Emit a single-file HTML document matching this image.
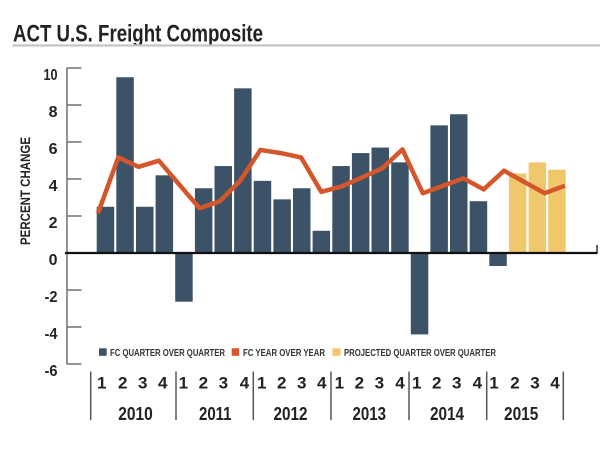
<!DOCTYPE html>
<html>
<head>
<meta charset="utf-8">
<style>
html,body{margin:0;padding:0;background:#fff;}
svg{display:block;}
text{font-family:"Liberation Sans Narrow","Liberation Sans",sans-serif;font-weight:bold;}
</style>
</head>
<body>
<svg width="600" height="450" viewBox="0 0 600 450" xmlns="http://www.w3.org/2000/svg">
<rect width="600" height="450" fill="#fff"/>
<!-- Title -->
<text x="13" y="41.5" font-size="24" fill="#222" textLength="250" lengthAdjust="spacingAndGlyphs">ACT U.S. Freight Composite</text>
<rect x="12.5" y="44.3" width="588" height="2.3" fill="#c6c6c6"/>

<!-- Y axis title -->
<text transform="translate(30,191) rotate(-90)" text-anchor="middle" font-size="13.5" fill="#222" textLength="108" lengthAdjust="spacingAndGlyphs">PERCENT CHANGE</text>

<!-- Y axis -->
<line x1="67" y1="67.5" x2="67" y2="364.5" stroke="#666" stroke-width="1.4"/>
<g stroke="#666" stroke-width="1.4">
<line x1="67" y1="68" x2="81.5" y2="68"/>
<line x1="67" y1="105" x2="81.5" y2="105"/>
<line x1="67" y1="142" x2="81.5" y2="142"/>
<line x1="67" y1="179" x2="81.5" y2="179"/>
<line x1="67" y1="216" x2="81.5" y2="216"/>
<line x1="67" y1="290" x2="81.5" y2="290"/>
<line x1="67" y1="327" x2="81.5" y2="327"/>
<line x1="67" y1="364" x2="81.5" y2="364"/>
</g>
<g font-size="16" fill="#222" text-anchor="end">
<text x="57.5" y="79.8" textLength="14" lengthAdjust="spacingAndGlyphs">10</text>
<text x="57.5" y="116.8">8</text>
<text x="57.5" y="153.8">6</text>
<text x="57.5" y="190.8">4</text>
<text x="57.5" y="227.8">2</text>
<text x="57.5" y="264.8">0</text>
<text x="57.5" y="301.8" textLength="13" lengthAdjust="spacingAndGlyphs">-2</text>
<text x="57.5" y="338.8" textLength="13" lengthAdjust="spacingAndGlyphs">-4</text>
<text x="57.5" y="375.8" textLength="13" lengthAdjust="spacingAndGlyphs">-6</text>
</g>

<!-- Bars: y(v)=253-18.5v ; x_i=96.7+19.63i -->
<g fill="#3c5367">
<rect x="96.7" y="206.75" width="17.5" height="46.25"/>
<rect x="116.3" y="77.25" width="17.5" height="175.75"/>
<rect x="136.0" y="206.75" width="17.5" height="46.25"/>
<rect x="155.6" y="175.3" width="17.5" height="77.7"/>
<rect x="175.2" y="253" width="17.5" height="48.7"/>
<rect x="194.9" y="188.25" width="17.5" height="64.75"/>
<rect x="214.5" y="166.05" width="17.5" height="86.95"/>
<rect x="234.1" y="88.35" width="17.5" height="164.65"/>
<rect x="253.7" y="180.85" width="17.5" height="72.15"/>
<rect x="273.4" y="199.35" width="17.5" height="53.65"/>
<rect x="293.0" y="188.25" width="17.5" height="64.75"/>
<rect x="312.6" y="230.8" width="17.5" height="22.2"/>
<rect x="332.3" y="166.05" width="17.5" height="86.95"/>
<rect x="351.9" y="153.1" width="17.5" height="99.9"/>
<rect x="371.5" y="147.55" width="17.5" height="105.45"/>
<rect x="391.2" y="162.35" width="17.5" height="90.65"/>
<rect x="410.8" y="253" width="17.5" height="81.4"/>
<rect x="430.4" y="125.35" width="17.5" height="127.65"/>
<rect x="450.0" y="114.25" width="17.5" height="138.75"/>
<rect x="469.7" y="201.2" width="17.5" height="51.8"/>
<rect x="489.3" y="253" width="17.5" height="13"/>
</g>
<g fill="#f1c76c">
<rect x="508.9" y="173.45" width="17.5" height="79.55"/>
<rect x="528.6" y="162.35" width="17.5" height="90.65"/>
<rect x="548.2" y="169.75" width="17.5" height="83.25"/>
</g>

<!-- Zero line -->
<line x1="65" y1="253" x2="597" y2="253" stroke="#111" stroke-width="2.3"/>
<line x1="597" y1="245" x2="597" y2="254" stroke="#111" stroke-width="1.3"/>

<!-- Orange line: x=98+20.3i -->
<polyline fill="none" stroke="#d5562b" stroke-width="4.5" stroke-linejoin="round" stroke-linecap="butt"
points="98,213.2 118.3,157.4 138.6,166.8 158.9,160.7 179.2,184.5 199.5,208.2 219.8,201.2 240.1,180.9 260.4,149.95 280.7,153.1 301,157.4 321.3,191.8 341.6,186.4 361.9,177.5 382.2,168.3 402.5,149.4 422.8,193.2 443.1,185.8 463.4,178.3 483.7,189.4 504,170.7 524.3,182 544.6,193.2 564.9,185.7"/>

<!-- Legend -->
<rect x="99" y="348.3" width="7.7" height="7.5" fill="#3c5367"/>
<text x="110" y="355.8" font-size="9.8" fill="#333" textLength="115" lengthAdjust="spacingAndGlyphs">FC QUARTER OVER QUARTER</text>
<rect x="231.7" y="348.3" width="7.5" height="7.5" fill="#d5562b"/>
<text x="243" y="355.8" font-size="9.8" fill="#333" textLength="82" lengthAdjust="spacingAndGlyphs">FC YEAR OVER YEAR</text>
<rect x="332.3" y="348.3" width="8.2" height="7.5" fill="#f1c76c"/>
<text x="344" y="355.8" font-size="9.8" fill="#333" textLength="152" lengthAdjust="spacingAndGlyphs">PROJECTED QUARTER OVER QUARTER</text>

<!-- X axis separators -->
<g stroke="#555" stroke-width="1.5">
<line x1="90.7" y1="371.5" x2="90.7" y2="420"/>
<line x1="176" y1="371.5" x2="176" y2="420"/>
<line x1="253.3" y1="371.5" x2="253.3" y2="420"/>
<line x1="331" y1="371.5" x2="331" y2="420"/>
<line x1="409" y1="371.5" x2="409" y2="420"/>
<line x1="486.7" y1="371.5" x2="486.7" y2="420"/>
<line x1="563.3" y1="371.5" x2="563.3" y2="420"/>
</g>
<g font-size="17" fill="#222" text-anchor="middle">
<text x="101.7" y="388.5">1</text><text x="122.7" y="388.5">2</text><text x="142.7" y="388.5">3</text><text x="162.7" y="388.5">4</text>
<text x="183.3" y="388.5">1</text><text x="203.3" y="388.5">2</text><text x="223.3" y="388.5">3</text><text x="244.5" y="388.5">4</text>
<text x="261.7" y="388.5">1</text><text x="281.7" y="388.5">2</text><text x="301.7" y="388.5">3</text><text x="321.7" y="388.5">4</text>
<text x="339.3" y="388.5">1</text><text x="359.3" y="388.5">2</text><text x="379.3" y="388.5">3</text><text x="400" y="388.5">4</text>
<text x="416.7" y="388.5">1</text><text x="436.7" y="388.5">2</text><text x="456.7" y="388.5">3</text><text x="477.3" y="388.5">4</text>
<text x="494" y="388.5">1</text><text x="515" y="388.5">2</text><text x="535" y="388.5">3</text><text x="555" y="388.5">4</text>
</g>
<g font-size="18" fill="#222">
<text x="118.3" y="420" textLength="34.5" lengthAdjust="spacingAndGlyphs">2010</text>
<text x="199" y="420" textLength="32.5" lengthAdjust="spacingAndGlyphs">2011</text>
<text x="273.5" y="420" textLength="34" lengthAdjust="spacingAndGlyphs">2012</text>
<text x="352.5" y="420" textLength="33.5" lengthAdjust="spacingAndGlyphs">2013</text>
<text x="430" y="420" textLength="34" lengthAdjust="spacingAndGlyphs">2014</text>
<text x="504" y="420" textLength="34.3" lengthAdjust="spacingAndGlyphs">2015</text>
</g>
</svg>
</body>
</html>
